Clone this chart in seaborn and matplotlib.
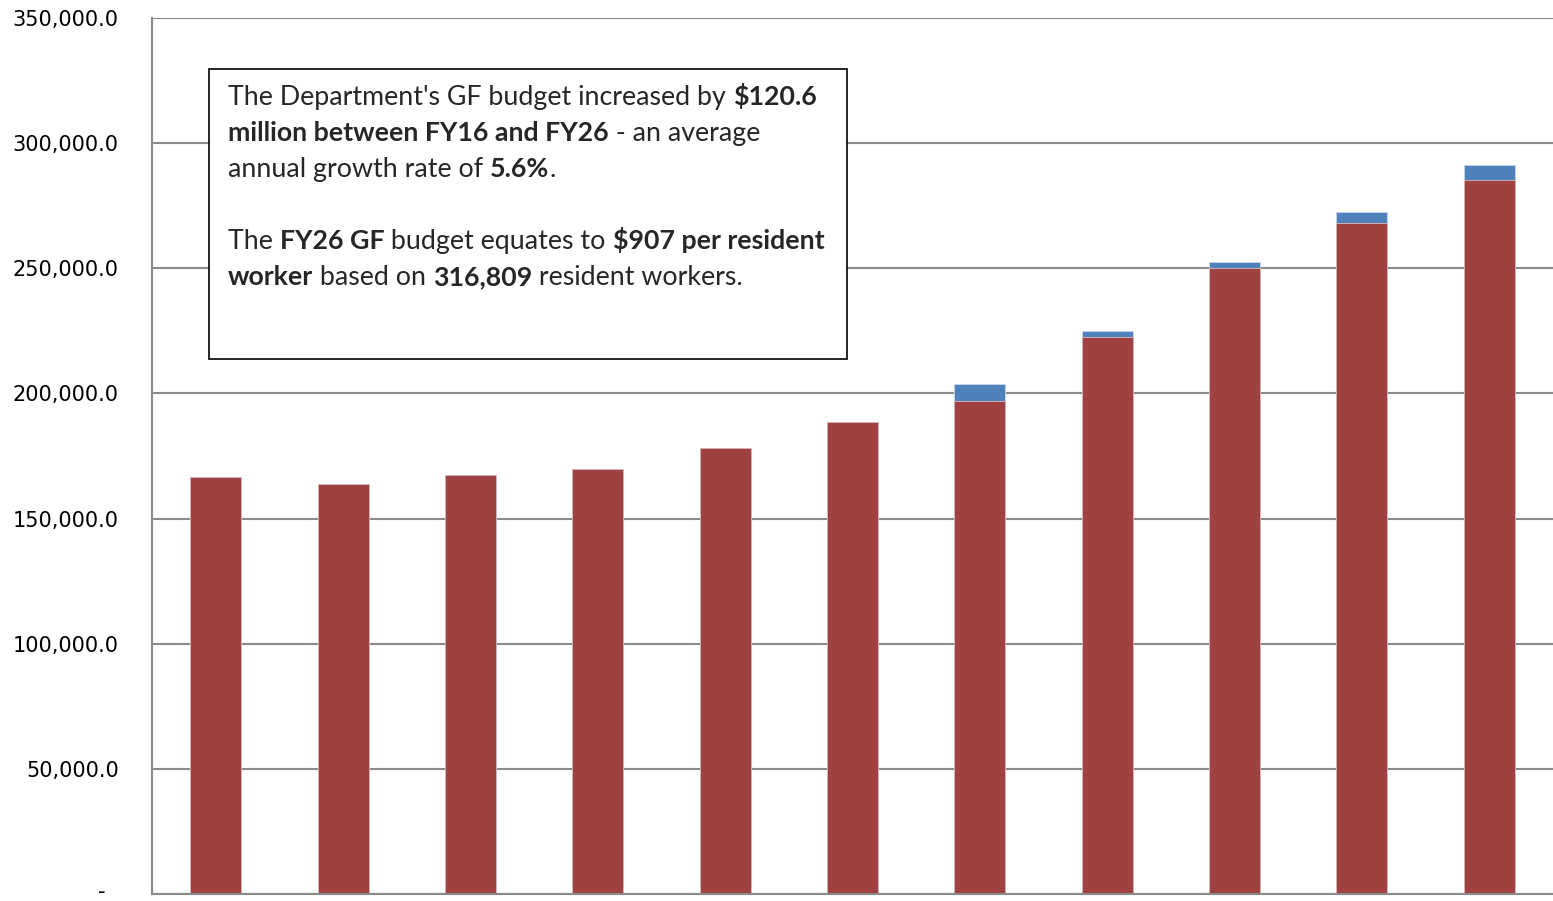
import numpy as np
import pandas as pd
import matplotlib
matplotlib.use("Agg")
import matplotlib.pyplot as plt
from matplotlib.patches import Rectangle
from matplotlib.ticker import FuncFormatter
from matplotlib.transforms import ScaledTranslation
import seaborn as sns

sns.set_theme(style="white")
plt.rcParams['font.family'] = ['DejaVu Sans']

# General Fund budget by fiscal year ($ thousands)
years = ["FY16", "FY17", "FY18", "FY19", "FY20", "FY21",
         "FY22", "FY23", "FY24", "FY25", "FY26"]
base_budget = [166700, 163700, 167400, 169700, 178100, 188700,
               196800, 222400, 250100, 268000, 285100]
added_budget = [0, 0, 0, 0, 0, 0, 7100, 2400, 2500, 4500, 6200]

note_lines = [
    [("The Department's GF budget increased by ", False), ("$120.6", True)],
    [("million between FY16 and FY26", True), (" - an average", False)],
    [("annual growth rate of ", False), ("5.6%", True), (".", False)],
    [],
    [("The ", False), ("FY26 GF", True), (" budget equates to ", False), ("$907 per resident", True)],
    [("worker", True), (" based on ", False), ("316,809", True), (" resident workers.", False)],
]

red = "#9E4140"
blue = "#4F81BD"
grey = "#8a8a8a"

df = pd.DataFrame({"year": years, "base": base_budget})
df["total"] = df["base"] + np.array(added_budget)

W, H = 1553, 901
fig = plt.figure(figsize=(W / 100, H / 100), dpi=100)
ax = fig.add_axes([152 / W, 7 / H, 1401 / W, 876 / H])

sns.barplot(data=df, x="year", y="total", color=blue, saturation=1, width=0.4,
            edgecolor="#c9d7ea", linewidth=0.6, ax=ax)
sns.barplot(data=df, x="year", y="base", color=red, saturation=1, width=0.4,
            edgecolor="#dcbaba", linewidth=0.6, ax=ax)

ax.set_xlim(-0.5, 10.5)
ax.set_ylim(0, 350000)
ax.set_yticks(np.arange(0, 350001, 50000))
ax.yaxis.set_major_formatter(FuncFormatter(lambda v, p: "-  " if v == 0 else f"{v:,.1f}"))
ax.tick_params(axis="y", length=0, pad=24, labelsize=15, labelcolor="black")
ax.set_xticks(np.arange(-0.5, 11, 1))
ax.set_xticklabels([])
ax.tick_params(axis="x", direction="out", length=6, width=1.5, color=grey)
ax.set_xlabel("")
ax.set_ylabel("")
ax.yaxis.grid(True, color=grey, linewidth=1.5)
ax.set_axisbelow(True)
for s in ["top", "right"]:
    ax.spines[s].set_visible(False)
for s in ["left", "bottom"]:
    ax.spines[s].set_color(grey)
    ax.spines[s].set_linewidth(1.5)

# nudge the zero label up so it stays inside the image
fig.canvas.draw()
zero_lbl = ax.get_yticklabels()[0]
zero_lbl.set_transform(zero_lbl.get_transform() + ScaledTranslation(0, 4 / 100, fig.dpi_scale_trans))

# annotation box
box = Rectangle((209 / W, 1 - 359 / H), 638 / W, 290 / H, transform=fig.transFigure,
                facecolor="white", edgecolor="black", linewidth=1.2, zorder=5)
fig.add_artist(box)

renderer = fig.canvas.get_renderer()
fam = ["Lato", "DejaVu Sans"]
fs = 19.3


def advance(s, bold):
    w = "bold" if bold else "normal"
    a = fig.text(0, 0, "|" + s + "|", fontsize=fs, family=fam, fontweight=w)
    b = fig.text(0, 0, "||", fontsize=fs, family=fam, fontweight=w)
    d = a.get_window_extent(renderer).width - b.get_window_extent(renderer).width
    a.remove()
    b.remove()
    return d


y0 = 105
for i, line in enumerate(note_lines):
    x = 228
    y = y0 + i * 36
    for s, bold in line:
        fig.text(x / W, 1 - y / H, s, fontsize=fs, family=fam,
                 fontweight="bold" if bold else "normal",
                 ha="left", va="baseline", zorder=6)
        x += advance(s, bold)

fig.savefig("out.png", dpi=100)
